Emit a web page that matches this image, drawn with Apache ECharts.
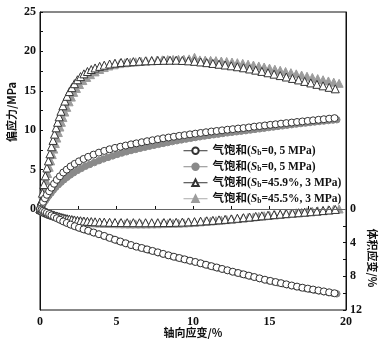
<!DOCTYPE html>
<html>
<head>
<meta charset="utf-8">
<script src="https://cdn.jsdelivr.net/npm/echarts@6/dist/echarts.min.js"></script>
<style>html,body{margin:0;padding:0;background:#fff}#c{width:387px;height:349px}</style>
</head>
<body>
<div id="c"></div>
<script>
// Legend labels
const legendLabels = {
  A: '气饱和({i|S}{sub|b}=0, 5 MPa)',
  B: '气饱和({i|S}{sub|b}=0, 5 MPa)',
  C: '气饱和({i|S}{sub|b}=45.9%, 3 MPa)',
  D: '气饱和({i|S}{sub|b}=45.5%, 3 MPa)'
};
const xTicks = [0, 5, 10, 15, 20];
const leftTicks = [0, 5, 10, 15, 20, 25];
const rightTicks = [0, 4, 8, 12];

// A: open circles (Sb=0, 5 MPa)
const ocX = [0,0.1,0.2,0.32,0.45,0.6,0.75,0.92,1.1,1.3,1.52,1.75,2.0,2.27,2.55,2.85,3.15,3.5,3.85,4.2,4.55,4.9,5.25,5.6,5.95,6.3,6.65,7.0,7.35,7.7,8.05,8.4,8.75,9.1,9.45,9.8,10.15,10.5,10.85,11.2,11.55,11.9,12.25,12.6,12.95,13.3,13.65,14.0,14.35,14.7,15.05,15.4,15.75,16.1,16.45,16.8,17.15,17.5,17.85,18.2,18.55,18.9,19.25];
const ocStress = [0,0.45,0.9,1.35,1.8,2.25,2.7,3.2,3.7,4.15,4.63,5.0,5.4,5.73,6.05,6.35,6.62,6.9,7.15,7.37,7.58,7.75,7.9,8.05,8.2,8.33,8.47,8.6,8.72,8.85,8.97,9.07,9.17,9.28,9.37,9.47,9.56,9.65,9.74,9.83,9.9,9.98,10.06,10.13,10.21,10.27,10.35,10.45,10.52,10.6,10.68,10.75,10.83,10.9,10.97,11.04,11.11,11.18,11.25,11.32,11.39,11.46,11.53];
const ocVol = [0,0.1,0.2,0.32,0.45,0.6,0.75,0.92,1.09,1.27,1.47,1.65,1.85,2.04,2.23,2.41,2.58,2.79,2.99,3.2,3.43,3.65,3.86,4.07,4.28,4.47,4.63,4.8,4.98,5.15,5.33,5.5,5.67,5.82,5.98,6.14,6.29,6.45,6.62,6.79,6.95,7.12,7.28,7.45,7.6,7.76,7.92,8.08,8.24,8.4,8.54,8.68,8.81,8.95,9.09,9.22,9.35,9.46,9.57,9.68,9.79,9.9,10.01];

// B: grey filled circles (Sb=0, 5 MPa)
const gcX = [0,0.08,0.16,0.25,0.35,0.46,0.58,0.72,0.87,1.03,1.2,1.38,1.57,1.77,1.98,2.2,2.45,2.7,2.97,3.25,3.55,3.85,4.15,4.45,4.75,5.05,5.35,5.65,5.95,6.25,6.55,6.85,7.15,7.45,7.75,8.05,8.35,8.65,8.95,9.25,9.55,9.85,10.15,10.45,10.75,11.05,11.35,11.65,11.95,12.25,12.55,12.85,13.15,13.45,13.75,14.05,14.35,14.65,14.95,15.25,15.55,15.85,16.15,16.45,16.75,17.05,17.35,17.65,17.95,18.25,18.55,18.85,19.15,19.4];
const gcStress = [0,0.27,0.53,0.8,1.08,1.4,1.7,2.03,2.4,2.76,3.08,3.4,3.72,4.02,4.32,4.6,4.9,5.15,5.42,5.65,5.89,6.13,6.35,6.55,6.74,6.93,7.1,7.26,7.42,7.56,7.7,7.83,7.96,8.08,8.2,8.32,8.43,8.55,8.66,8.77,8.87,8.97,9.07,9.16,9.25,9.34,9.42,9.5,9.58,9.66,9.73,9.8,9.87,9.94,10.02,10.1,10.17,10.25,10.33,10.4,10.48,10.55,10.63,10.7,10.77,10.84,10.9,10.97,11.04,11.1,11.16,11.22,11.28,11.33];
const gcVol = [0,0.08,0.16,0.26,0.36,0.47,0.59,0.73,0.88,1.03,1.19,1.35,1.52,1.68,1.85,2.01,2.19,2.35,2.51,2.67,2.84,3.01,3.19,3.38,3.57,3.76,3.94,4.12,4.3,4.46,4.61,4.75,4.9,5.05,5.2,5.35,5.5,5.64,5.78,5.91,6.04,6.17,6.3,6.44,6.59,6.74,6.88,7.02,7.16,7.3,7.45,7.58,7.71,7.85,7.98,8.12,8.26,8.4,8.53,8.65,8.77,8.88,9.0,9.12,9.23,9.34,9.44,9.54,9.64,9.74,9.84,9.93,10.02,10.08];

// C: open triangles (Sb=45.9%, 3 MPa)
const otX = [0,0.08,0.16,0.25,0.35,0.45,0.55,0.65,0.75,0.85,0.95,1.05,1.15,1.25,1.37,1.5,1.63,1.77,1.92,2.08,2.25,2.45,2.65,2.87,3.1,3.35,3.6,3.9,4.2,4.55,4.9,5.3,5.7,6.1,6.5,6.9,7.3,7.7,8.1,8.5,8.9,9.3,9.7,10.1,10.5,10.9,11.3,11.7,12.1,12.5,12.9,13.3,13.7,14.1,14.5,14.9,15.3,15.7,16.1,16.5,16.9,17.3,17.7,18.1,18.5,18.9,19.3];
const otStress = [0,1.0,2.0,3.1,4.2,5.2,6.1,7.0,7.9,8.7,9.5,10.3,11.0,11.7,12.4,13.1,13.7,14.3,14.9,15.4,15.9,16.4,16.8,17.15,17.45,17.7,17.9,18.1,18.25,18.4,18.5,18.6,18.65,18.7,18.75,18.8,18.82,18.85,18.87,18.88,18.88,18.85,18.8,18.74,18.66,18.57,18.47,18.37,18.27,18.17,18.05,17.92,17.77,17.62,17.46,17.29,17.11,16.93,16.75,16.57,16.38,16.19,16.0,15.82,15.63,15.44,15.25];
const otVol = [0,0.08,0.16,0.25,0.34,0.42,0.5,0.57,0.64,0.7,0.76,0.82,0.87,0.92,0.98,1.04,1.1,1.15,1.2,1.25,1.3,1.35,1.39,1.43,1.46,1.49,1.52,1.54,1.56,1.58,1.6,1.61,1.62,1.62,1.63,1.63,1.63,1.62,1.61,1.6,1.58,1.56,1.53,1.5,1.45,1.4,1.35,1.29,1.23,1.17,1.1,1.03,0.96,0.88,0.81,0.74,0.67,0.61,0.55,0.49,0.44,0.38,0.32,0.26,0.19,0.12,0.05];

// D: grey filled triangles (Sb=45.5%, 3 MPa)
const gtX = [0,0.1,0.2,0.3,0.4,0.5,0.6,0.7,0.8,0.9,1.0,1.1,1.2,1.3,1.4,1.5,1.62,1.75,1.9,2.05,2.2,2.38,2.58,2.8,3.05,3.3,3.6,3.9,4.2,4.5,4.85,5.2,5.55,5.9,6.25,6.6,6.95,7.3,7.65,8.0,8.35,8.7,9.05,9.4,9.75,10.1,10.45,10.8,11.15,11.5,11.85,12.2,12.55,12.9,13.25,13.6,13.95,14.3,14.65,15.0,15.35,15.7,16.05,16.4,16.75,17.1,17.45,17.8,18.15,18.5,18.85,19.2,19.55];
const gtStress = [0,0.9,1.8,2.7,3.6,4.5,5.3,6.1,6.9,7.6,8.3,9.0,9.7,10.4,11.0,11.6,12.3,12.9,13.6,14.2,14.8,15.3,15.8,16.3,16.7,17.05,17.4,17.7,17.95,18.15,18.3,18.45,18.55,18.62,18.68,18.74,18.8,18.85,18.9,18.93,18.96,18.98,19.0,19.0,19.05,19.25,18.92,18.9,18.87,18.83,18.78,18.72,18.65,18.57,18.48,18.38,18.27,18.15,18.02,17.88,17.74,17.6,17.45,17.3,17.15,17.0,16.85,16.7,16.55,16.4,16.25,16.1,15.95];
const gtVol = [0,0.1,0.2,0.29,0.38,0.47,0.55,0.63,0.7,0.77,0.83,0.89,0.95,1.0,1.05,1.1,1.16,1.21,1.27,1.32,1.37,1.42,1.47,1.52,1.56,1.6,1.64,1.67,1.7,1.72,1.74,1.75,1.76,1.77,1.77,1.77,1.77,1.76,1.75,1.74,1.72,1.7,1.68,1.65,1.62,1.58,1.53,1.48,1.43,1.38,1.32,1.26,1.2,1.14,1.07,1.0,0.94,0.87,0.8,0.74,0.68,0.62,0.56,0.5,0.45,0.39,0.33,0.27,0.21,0.15,0.09,0.04,0.0];

const pairs = (xs, ys) => xs.map((v, i) => [v, ys[i]]);
const SERIF = '"Liberation Serif","DejaVu Serif","Noto Sans CJK SC",serif';
const CJK = '"Noto Sans CJK SC","Liberation Serif",sans-serif';

const styles = {
  A: { symbol: 'circle', size: 7, item: { color: '#fff', borderColor: '#333', borderWidth: 1 }, line: '#333' },
  B: { symbol: 'circle', size: 6.5, item: { color: '#8a8a8a', borderColor: '#8a8a8a', borderWidth: 1 }, line: '#8a8a8a' },
  C: { symbol: 'triangle', size: 8, item: { color: '#fff', borderColor: '#333', borderWidth: 1 }, line: '#333' },
  D: { symbol: 'triangle', size: 8, item: { color: '#9c9c9c', borderColor: '#9c9c9c', borderWidth: 1 }, line: '#aaa' }
};

function mk(name, data, yIdx, z) {
  const s = styles[name];
  return {
    name: name, type: 'line', yAxisIndex: yIdx, data: data, z: z,
    symbol: s.symbol, symbolSize: s.size, showSymbol: true,
    itemStyle: s.item, lineStyle: { opacity: 0, width: 1, color: s.line },
    animation: false, silent: true
  };
}

const series = [
  mk('D', pairs(gtX, gtStress), 0, 2),
  mk('D', pairs(gtX, gtVol), 1, 2),
  mk('C', pairs(otX, otStress), 0, 3),
  mk('C', pairs(otX, otVol), 1, 3),
  mk('B', pairs(gcX, gcStress), 0, 4),
  mk('B', pairs(gcX, gcVol), 1, 4),
  mk('A', pairs(ocX, ocStress), 0, 5),
  mk('A', pairs(ocX, ocVol), 1, 5)
];
series[0].markLine = {
  symbol: ['none', 'none'], silent: true, animation: false,
  label: { show: false },
  lineStyle: { color: '#666', width: 1, type: 'solid' },
  data: [{ yAxis: 0 }]
};

const chart = echarts.init(document.getElementById('c'), null, { renderer: 'canvas' });
chart.setOption({
  backgroundColor: '#fff',
  animation: false,
  grid: { left: 40, right: 41, top: 12, bottom: 39, show: true, borderColor: '#111', borderWidth: 1, backgroundColor: 'transparent' },
  legend: {
    orient: 'vertical', left: 183, top: 145, padding: 0, itemWidth: 24, itemHeight: 8, itemGap: 4.5,
    selectedMode: false,
    data: ['A', 'B', 'C', 'D'].map(n => ({ name: n, lineStyle: { opacity: 1, width: 1, color: styles[n].line } })),
    formatter: n => legendLabels[n],
    textStyle: {
      fontFamily: SERIF, fontWeight: 'bold', fontSize: 11.5, color: '#111',
      rich: {
        i: { fontFamily: SERIF, fontStyle: 'italic', fontWeight: 'bold', fontSize: 11.5, color: '#111' },
        sub: { fontFamily: SERIF, fontWeight: 'bold', fontSize: 7.5, color: '#111', verticalAlign: 'bottom', padding: [4, 0, 0, 0] }
      }
    }
  },
  xAxis: {
    type: 'value', min: 0, max: 20,
    axisLine: { show: true, lineStyle: { color: '#111', width: 1 } },
    axisTick: { show: true, inside: true, length: 3, customValues: [0, 2.5, 5, 7.5, 10, 12.5, 15, 17.5, 20], lineStyle: { color: '#111' } },
    axisLabel: { customValues: xTicks, margin: 6, fontFamily: SERIF, fontWeight: 'bold', fontSize: 12, color: '#111' },
    splitLine: { show: false }
  },
  yAxis: [
    {
      type: 'value', min: -12.82, max: 25, position: 'left',
      axisLine: { show: true, lineStyle: { color: '#111', width: 1 } },
      axisTick: { show: true, inside: true, length: 3, customValues: [0, 2.5, 5, 7.5, 10, 12.5, 15, 17.5, 20, 22.5, 25], lineStyle: { color: '#111' } },
      axisLabel: { customValues: leftTicks, margin: 4, fontFamily: SERIF, fontWeight: 'bold', fontSize: 12, color: '#111' },
      splitLine: { show: false }
    },
    {
      type: 'value', min: -23.41, max: 12, inverse: true, position: 'right',
      axisLine: { show: true, lineStyle: { color: '#111', width: 1 } },
      axisTick: { show: true, inside: true, length: 3, customValues: [0, 2, 4, 6, 8, 10, 12], lineStyle: { color: '#111' } },
      axisLabel: { customValues: rightTicks, margin: 4, fontFamily: SERIF, fontWeight: 'bold', fontSize: 12, color: '#111' },
      splitLine: { show: false }
    }
  ],
  graphic: [
    { type: 'text', x: 12, y: 112, rotation: Math.PI / 2,
      style: { text: '偏应力/MPa', fontFamily: CJK, fontSize: 11, fontWeight: 'bold', fill: '#111', align: 'center', verticalAlign: 'middle' } },
    { type: 'text', x: 372, y: 258, rotation: -Math.PI / 2,
      style: { text: '体积应变/%', fontFamily: CJK, fontSize: 11, fontWeight: 'bold', fill: '#111', align: 'center', verticalAlign: 'middle' } },
    { type: 'text', x: 193, y: 333,
      style: { text: '轴向应变/%', fontFamily: CJK, fontSize: 11, fontWeight: 'bold', fill: '#111', align: 'center', verticalAlign: 'middle' } }
  ],
  series: series
});
</script>
</body>
</html>
